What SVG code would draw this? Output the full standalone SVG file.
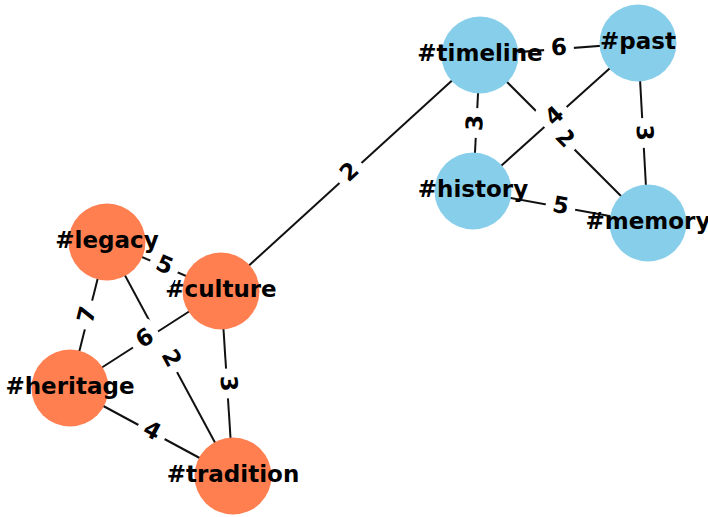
<svg xmlns="http://www.w3.org/2000/svg" width="708" height="517" viewBox="0 0 708 517">
<style>
.edge{stroke:#111;stroke-width:2;fill:none}
.blue{fill:#87CEEB}
.orange{fill:#FF7F50}
.nl{font-family:"DejaVu Sans","Liberation Sans",sans-serif;font-weight:bold;font-size:23px;text-anchor:middle;fill:#000}
.el{font-family:"DejaVu Sans","Liberation Sans",sans-serif;font-weight:bold;font-size:23px;text-anchor:middle;fill:#000}
.lb{fill:#fff;stroke:none}
</style>
<rect width="708" height="517" fill="#fff"/>
<g id="connectors">
<line class="edge" x1="480" y1="55" x2="638" y2="43"/>
<line class="edge" x1="480" y1="55" x2="473" y2="191"/>
<line class="edge" x1="480" y1="55" x2="648" y2="223"/>
<line class="edge" x1="638" y1="43" x2="473" y2="191"/>
<line class="edge" x1="638" y1="43" x2="648" y2="223"/>
<line class="edge" x1="473" y1="191" x2="648" y2="223"/>
<line class="edge" x1="480" y1="55" x2="221" y2="291"/>
<line class="edge" x1="107" y1="242" x2="221" y2="291"/>
<line class="edge" x1="107" y1="242" x2="70" y2="388"/>
<line class="edge" x1="107" y1="242" x2="233" y2="476"/>
<line class="edge" x1="221" y1="291" x2="70" y2="388"/>
<line class="edge" x1="221" y1="291" x2="233" y2="476"/>
<line class="edge" x1="70" y1="388" x2="233" y2="476"/>
</g>
<g id="node-timeline"><circle class="blue" cx="480" cy="55" r="38.5"/><text class="nl" x="480" y="61">#timeline</text></g>
<g id="node-past"><circle class="blue" cx="638" cy="43" r="38.5"/><text class="nl" x="638" y="49">#past</text></g>
<g id="node-history"><circle class="blue" cx="473" cy="191" r="38.5"/><text class="nl" x="473" y="197">#history</text></g>
<g id="node-memory"><circle class="blue" cx="648" cy="223" r="38.5"/><text class="nl" x="648" y="229">#memory</text></g>
<g id="node-legacy"><circle class="orange" cx="107" cy="242" r="38.5"/><text class="nl" x="107" y="248">#legacy</text></g>
<g id="node-culture"><circle class="orange" cx="221" cy="291" r="38.5"/><text class="nl" x="221" y="297">#culture</text></g>
<g id="node-heritage"><circle class="orange" cx="70" cy="388" r="38.5"/><text class="nl" x="70" y="394">#heritage</text></g>
<g id="node-tradition"><circle class="orange" cx="233" cy="476" r="38.5"/><text class="nl" x="233" y="482">#tradition</text></g>
<g id="edge-labels">
<g transform="translate(559,49) rotate(-4.3)"><rect class="lb" x="-14.9" y="-18.4" width="29.8" height="36.8" rx="6.9"/><text class="el" x="0" y="6">6</text></g>
<g transform="translate(476.5,123) rotate(-87.1)"><rect class="lb" x="-14.9" y="-18.4" width="29.8" height="36.8" rx="6.9"/><text class="el" x="0" y="6">3</text></g>
<g transform="translate(564,139) rotate(45)"><rect class="lb" x="-14.9" y="-18.4" width="29.8" height="36.8" rx="6.9"/><text class="el" x="0" y="6">2</text></g>
<g transform="translate(555.5,117) rotate(-41.9)"><rect class="lb" x="-14.9" y="-18.4" width="29.8" height="36.8" rx="6.9"/><text class="el" x="0" y="6">4</text></g>
<g transform="translate(643,133) rotate(86.8)"><rect class="lb" x="-14.9" y="-18.4" width="29.8" height="36.8" rx="6.9"/><text class="el" x="0" y="6">3</text></g>
<g transform="translate(560.5,207) rotate(10.4)"><rect class="lb" x="-14.9" y="-18.4" width="29.8" height="36.8" rx="6.9"/><text class="el" x="0" y="6">5</text></g>
<g transform="translate(350.5,173) rotate(-42.3)"><rect class="lb" x="-14.9" y="-18.4" width="29.8" height="36.8" rx="6.9"/><text class="el" x="0" y="6">2</text></g>
<g transform="translate(164,266.5) rotate(23.3)"><rect class="lb" x="-14.9" y="-18.4" width="29.8" height="36.8" rx="6.9"/><text class="el" x="0" y="6">5</text></g>
<g transform="translate(88.5,315) rotate(-75.8)"><rect class="lb" x="-14.9" y="-18.4" width="29.8" height="36.8" rx="6.9"/><text class="el" x="0" y="6">7</text></g>
<g transform="translate(170,359) rotate(61.7)"><rect class="lb" x="-14.9" y="-18.4" width="29.8" height="36.8" rx="6.9"/><text class="el" x="0" y="6">2</text></g>
<g transform="translate(145.5,339.5) rotate(-32.7)"><rect class="lb" x="-14.9" y="-18.4" width="29.8" height="36.8" rx="6.9"/><text class="el" x="0" y="6">6</text></g>
<g transform="translate(227,383.5) rotate(86.3)"><rect class="lb" x="-14.9" y="-18.4" width="29.8" height="36.8" rx="6.9"/><text class="el" x="0" y="6">3</text></g>
<g transform="translate(151.5,432) rotate(28.4)"><rect class="lb" x="-14.9" y="-18.4" width="29.8" height="36.8" rx="6.9"/><text class="el" x="0" y="6">4</text></g>
</g>
</svg>
